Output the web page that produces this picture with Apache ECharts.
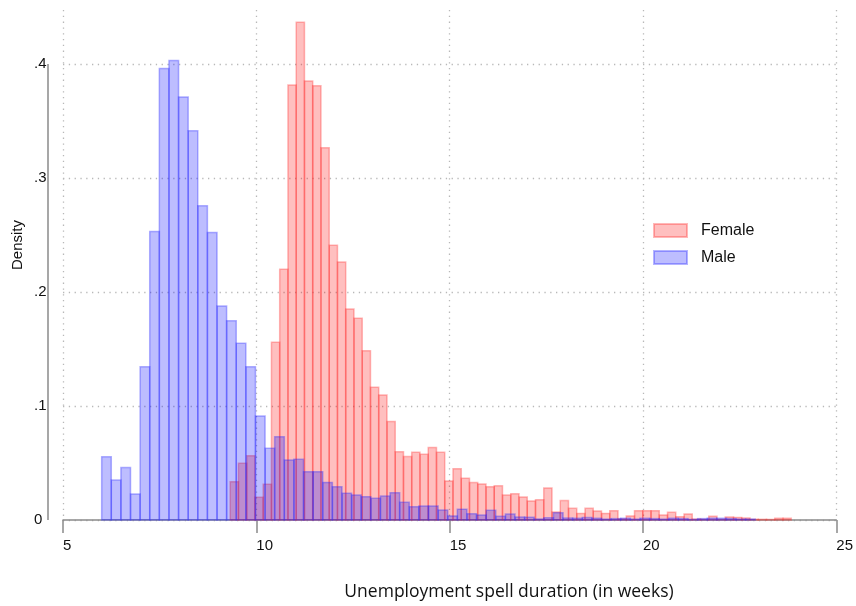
<!DOCTYPE html>
<html>
<head>
<meta charset="utf-8">
<script src="https://cdn.jsdelivr.net/npm/echarts@6/dist/echarts.min.js"></script>
<style>html,body{margin:0;padding:0;background:#fff;}#c{width:856px;height:606px;}</style>
</head>
<body>
<div id="c"></div>
<script>
// Histogram bins (weeks): start and width of each series' bins
const femaleStart = 9.324, femaleWidth = 0.2134;
const maleStart = 6.0, maleWidth = 0.2486;

// Density per bin
const femaleDensity = [
  0.0336, 0.0497, 0.0564, 0.0199, 0.0313, 0.156, 0.2199, 0.3816, 0.4366, 0.3851,
  0.381, 0.3266, 0.241, 0.2263, 0.1851, 0.1769, 0.1485, 0.1164, 0.1096, 0.0863,
  0.0599, 0.0556, 0.0594, 0.0576, 0.0636, 0.0594, 0.0342, 0.045, 0.0366, 0.0328,
  0.0316, 0.0292, 0.03, 0.0219, 0.023, 0.0202, 0.0167, 0.0178, 0.0281, 0.007,
  0.017, 0.0102, 0.0058, 0.0102, 0.0079, 0.0058, 0.0082, 0.001, 0.0036, 0.0082,
  0.0082, 0.0082, 0.0044, 0.0067, 0.0029, 0.0053, 0.0009, 0.0006, 0.0032, 0.0006,
  0.0026, 0.0023, 0.0018, 0.0006, 0.0006, 0.0005, 0.0015, 0.0015
];
const maleDensity = [
  0.0555, 0.035, 0.046, 0.0228, 0.1345, 0.253, 0.396, 0.403, 0.371, 0.3415,
  0.2757, 0.2523, 0.1877, 0.1749, 0.155, 0.1345, 0.0912, 0.0629, 0.0731, 0.0526,
  0.0532, 0.0424, 0.0424, 0.033, 0.0292, 0.0234, 0.0219, 0.0205, 0.019, 0.021,
  0.024, 0.0155, 0.0117, 0.0123, 0.0123, 0.0088, 0.0036, 0.0095, 0.0055, 0.0044,
  0.0085, 0.0032, 0.0052, 0.0026, 0.0024, 0.0009, 0.002, 0.0064, 0.0017, 0.0015,
  0.0021, 0.0015, 0.0008, 0.0012, 0.0015, 0.0008, 0.0015, 0.0012, 0.0008, 0.0015,
  0.0012, 0.0005, 0.0012, 0.0015, 0.0015, 0.0012, 0.0008, 0.0008
];

const xTicks = [5, 10, 15, 20, 25];
const yTicks = [0, 0.1, 0.2, 0.3, 0.4];
const seriesNames = ['Female', 'Male'];
const xTitle = 'Unemployment spell duration (in weeks)';
const yTitle = 'Density';

function bins(start, width, vals) {
  return vals.map((v, i) => [start + i * width, start + (i + 1) * width, v]);
}

const femaleStyle = { fill: 'rgba(255,0,0,0.25)', stroke: 'rgba(255,40,40,0.33)', lineWidth: 1.5 };
const maleStyle = { fill: 'rgba(0,0,255,0.26)', stroke: 'rgba(40,40,255,0.35)', lineWidth: 1.5 };

function histRender(style) {
  return function (params, api) {
    const p0 = api.coord([api.value(0), api.value(2)]);
    const p1 = api.coord([api.value(1), 0]);
    return {
      type: 'rect',
      shape: { x: p0[0], y: p0[1], width: p1[0] - p0[0], height: p1[1] - p0[1] },
      style: style
    };
  };
}

const chart = echarts.init(document.getElementById('c'), null, { renderer: 'canvas' });
const axisGray = '#8a8a8a';
const gridDot = { color: '#b8b8b8', width: 1.3, type: [1.3, 4.5] };

chart.setOption({
  backgroundColor: '#fff',
  animation: false,
  grid: { left: 63, right: 15, top: 10, bottom: 86 },
  xAxis: {
    type: 'value', min: xTicks[0], max: xTicks[xTicks.length - 1], interval: 5,
    offset: 15,
    axisLine: { show: true, lineStyle: { color: axisGray, width: 1.5 } },
    axisTick: { show: true, length: 13, lineStyle: { color: axisGray, width: 1.5 } },
    axisLabel: { align: 'left', margin: 3, fontSize: 15, color: '#111', fontFamily: 'Liberation Sans, Arial, sans-serif' },
    splitLine: { show: true, lineStyle: gridDot }
  },
  yAxis: {
    type: 'value', min: 0, max: 0.4474, interval: 0.1,
    offset: 15,
    axisLine: { show: false },
    axisTick: { show: false },
    axisLabel: {
      align: 'left', margin: 14, fontSize: 15, color: '#111', padding: [0, 0, 6, 0],
      fontFamily: 'Liberation Sans, Arial, sans-serif', showMaxLabel: false,
      formatter: v => (Math.abs(v) < 1e-9 ? '0' : (Math.round(v * 10) / 10).toFixed(1).replace(/^0/, ''))
    },
    splitLine: { show: true, showMaxLine: false, lineStyle: gridDot }
  },
  legend: {
    data: seriesNames.map(n => ({ name: n, icon: 'rect' })), orient: 'vertical', left: 653, top: 216, padding: 0,
    itemWidth: 33, itemHeight: 13, itemGap: -2,
    textStyle: { fontSize: 16, color: '#111', fontFamily: 'Liberation Sans, Arial, sans-serif', lineHeight: 16, padding: [0, 0, 13, 9] }
  },
  graphic: [
    { type: 'text', x: 509, y: 592, style: { text: xTitle, align: 'center', verticalAlign: 'middle', font: '17.5px "Open Sans", sans-serif', fill: '#111' } },
    { type: 'text', x: 18, y: 245, rotation: Math.PI / 2, style: { text: yTitle, align: 'center', verticalAlign: 'middle', font: '15px "Liberation Sans", Arial, sans-serif', fill: '#111' } }
  ],
  series: [
    {
      name: seriesNames[0], type: 'custom', renderItem: histRender(femaleStyle),
      itemStyle: { color: femaleStyle.fill, borderColor: femaleStyle.stroke, borderWidth: 1.5 },
      encode: { x: [0, 1], y: 2 }, data: bins(femaleStart, femaleWidth, femaleDensity), z: 2
    },
    {
      name: seriesNames[1], type: 'custom', renderItem: histRender(maleStyle),
      itemStyle: { color: maleStyle.fill, borderColor: maleStyle.stroke, borderWidth: 1.5 },
      encode: { x: [0, 1], y: 2 }, data: bins(maleStart, maleWidth, maleDensity), z: 3
    },
    {
      // y axis line spanning the labelled range only, shifted left like the axis
      type: 'custom', silent: true, z: 4,
      renderItem: function (params, api) {
        const a = api.coord([xTicks[0], yTicks[0]]);
        const b = api.coord([xTicks[0], yTicks[yTicks.length - 1]]);
        return { type: 'line', shape: { x1: a[0] - 15, y1: a[1], x2: b[0] - 15, y2: b[1] }, style: { stroke: axisGray, lineWidth: 1.5 } };
      },
      data: [[xTicks[0], yTicks[0]]]
    }
  ]
});
</script>
</body>
</html>
